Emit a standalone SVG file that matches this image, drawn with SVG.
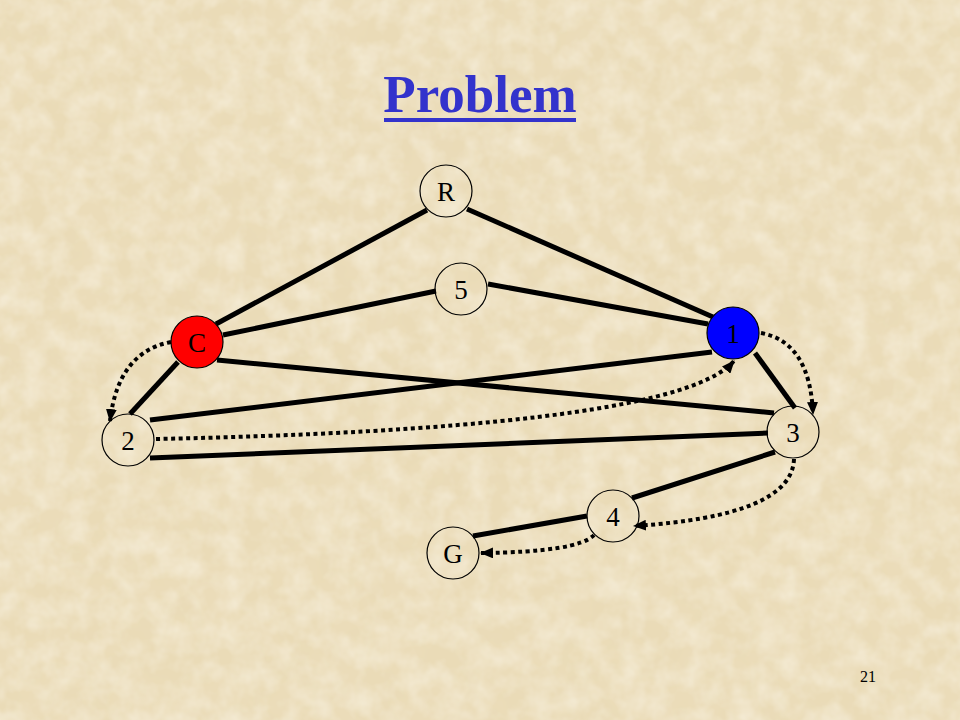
<svg xmlns="http://www.w3.org/2000/svg" width="960" height="720" viewBox="0 0 960 720">
  <defs>
    <style>
      .edge { stroke:#000; stroke-width:5; fill:none; stroke-linecap:butt; }
      .dot { stroke:#000; stroke-width:4; fill:none; stroke-dasharray:4 3.5; marker-end:url(#ah); }
      .node { stroke:#000; stroke-width:1.2; fill:none; }
      .lbl { font-family:"Liberation Serif","Times New Roman",serif; font-size:27px; fill:#000; text-anchor:middle; }
    </style>
    <marker id="ah" viewBox="0 0 13 11" refX="12" refY="5.5" markerWidth="13" markerHeight="11" markerUnits="userSpaceOnUse" orient="auto">
      <path d="M0,0 L13,5.5 L0,11 Z" fill="#000"/>
    </marker>
    <filter id="paper" x="0" y="0" width="100%" height="100%">
      <feTurbulence type="fractalNoise" baseFrequency="0.025" numOctaves="4" seed="7"/>
      <feColorMatrix type="matrix" values="0 0 0 0 0.85  0 0 0 0 0.74  0 0 0 0 0.52  0.9 0 0 0 -0.3"/>
    </filter>
    <filter id="paperlight" x="0" y="0" width="100%" height="100%">
      <feTurbulence type="fractalNoise" baseFrequency="0.045" numOctaves="3" seed="21"/>
      <feColorMatrix type="matrix" values="0 0 0 0 0.97  0 0 0 0 0.93  0 0 0 0 0.83  0 0.9 0 0 -0.3"/>
    </filter>
  </defs>

  <rect width="960" height="720" fill="#EADBB7"/>
  <rect width="960" height="720" fill="#EADBB7" filter="url(#paper)"/>
  <rect width="960" height="720" fill="#EADBB7" filter="url(#paperlight)"/>

  <g id="title">
    <text x="480" y="112" font-family="Liberation Serif, 'Times New Roman', serif" font-size="53" font-weight="bold" fill="#3333CC" text-anchor="middle">Problem</text>
    <rect x="384" y="118" width="192" height="4" fill="#3333CC"/>
  </g>

  <g id="connectors">
    <line class="edge" x1="427" y1="210" x2="216" y2="324"/>
    <line class="edge" x1="467" y1="209" x2="713" y2="317"/>
    <line class="edge" x1="223" y1="335" x2="436" y2="291"/>
    <line class="edge" x1="488" y1="284" x2="708" y2="324"/>
    <line class="edge" x1="217" y1="360" x2="774" y2="413"/>
    <line class="edge" x1="178" y1="362" x2="130" y2="414"/>
    <line class="edge" x1="150" y1="420" x2="712" y2="352"/>
    <line class="edge" x1="150" y1="458" x2="768" y2="433"/>
    <line class="edge" x1="755" y1="353" x2="795" y2="408"/>
    <line class="edge" x1="775" y1="452" x2="632" y2="498"/>
    <line class="edge" x1="587" y1="516" x2="473" y2="536"/>

    <path class="dot" d="M171,342 Q118,352 110,421"/>
    <path class="dot" d="M156,439 C450,433 690,412 734,361"/>
    <path class="dot" d="M761,333 Q810,342 813,414"/>
    <path class="dot" d="M794,459 Q792,516 634,526"/>
    <path class="dot" d="M594,535 Q578,552 481,553"/>
  </g>

  <g id="node-R">
    <circle class="node" cx="446" cy="191" r="26"/>
    <text class="lbl" x="446" y="201">R</text>
  </g>
  <g id="node-5">
    <circle class="node" cx="461" cy="289" r="26"/>
    <text class="lbl" x="461" y="299">5</text>
  </g>
  <g id="node-C">
    <circle cx="197" cy="342" r="26" fill="#FF0000" stroke="#000" stroke-width="1.2"/>
    <text class="lbl" x="197" y="352">C</text>
  </g>
  <g id="node-1">
    <circle cx="733" cy="333" r="26" fill="#0000FF" stroke="#000" stroke-width="1.2"/>
    <text class="lbl" x="733" y="343">1</text>
  </g>
  <g id="node-2">
    <circle class="node" cx="128" cy="440" r="26"/>
    <text class="lbl" x="128" y="450">2</text>
  </g>
  <g id="node-3">
    <circle class="node" cx="793" cy="432" r="26"/>
    <text class="lbl" x="793" y="442">3</text>
  </g>
  <g id="node-4">
    <circle class="node" cx="613" cy="516" r="26"/>
    <text class="lbl" x="613" y="526">4</text>
  </g>
  <g id="node-G">
    <circle class="node" cx="453" cy="553" r="26"/>
    <text class="lbl" x="453" y="563">G</text>
  </g>

  <text x="868" y="682" font-family="Liberation Serif, 'Times New Roman', serif" font-size="16" fill="#000" text-anchor="middle">21</text>
</svg>
